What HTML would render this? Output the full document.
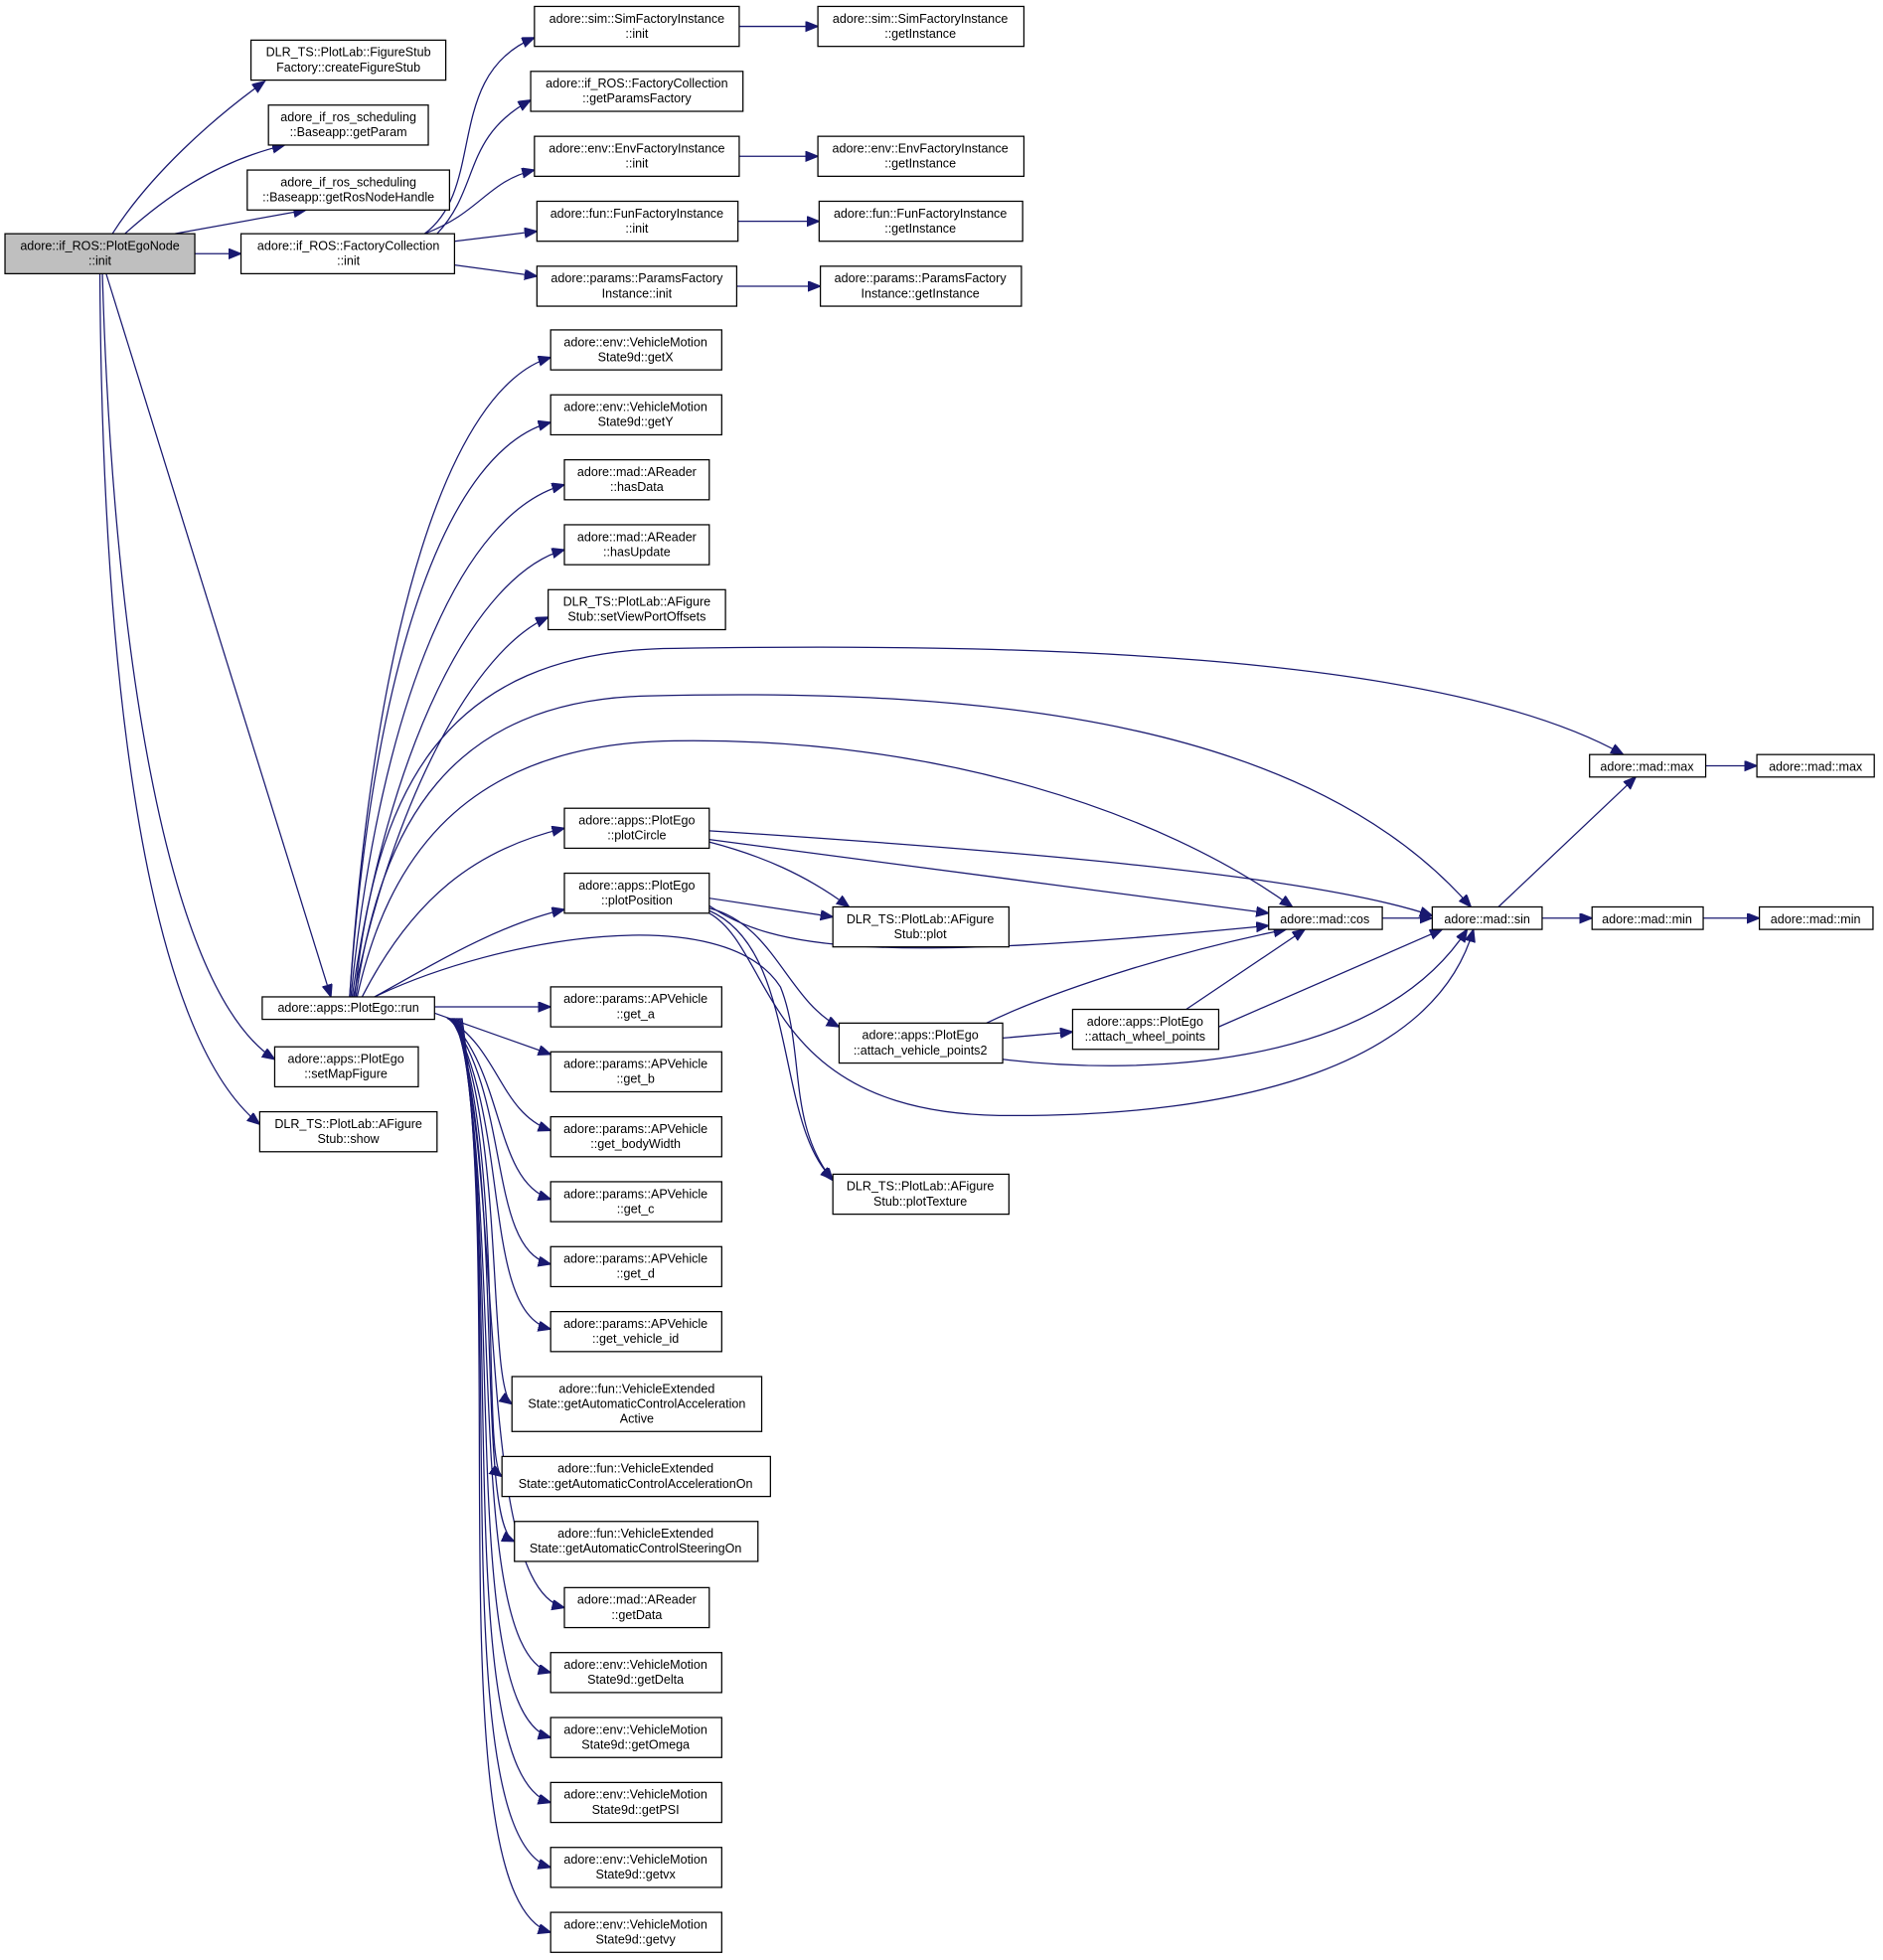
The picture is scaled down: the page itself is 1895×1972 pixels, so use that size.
<!DOCTYPE html>
<html><head><meta charset="utf-8"><style>
html,body{margin:0;padding:0;background:#fff;}
svg{display:block;}
text{font-family:"Liberation Sans",Arial,sans-serif;font-size:10px;fill:#000;text-anchor:middle;}
rect{fill:#fff;stroke:#000;stroke-width:1;}
path{fill:none;stroke:#191970;stroke-width:1;}
</style></head><body>
<svg width="1895" height="1972" viewBox="0 0 1508 1569" xmlns="http://www.w3.org/2000/svg">
<defs><marker id="a" markerUnits="userSpaceOnUse" markerWidth="12" markerHeight="10" refX="10" refY="4" orient="auto"><path d="M0,0 L10,4 L0,8 Z" style="fill:#191970;stroke:#191970"/></marker></defs>
<g marker-end="url(#a)">
<path d="M90,187 C120,140 170,95 212,65"/>
<path d="M100,187 C130,160 170,130 228,116"/>
<path d="M140,187 L245,168"/>
<path d="M156,203 L193,203"/>
<path d="M85,219 L265,798"/>
<path d="M82,219 C90,500 130,790 220,848"/>
<path d="M80,219 C82,560 120,830 208,900"/>
<path d="M340,187 C390,150 355,60 428,30"/>
<path d="M350,187 C385,150 370,110 425,80"/>
<path d="M340,187 C385,170 390,145 428,136"/>
<path d="M364,193 L430,185"/>
<path d="M364,212 L430,221"/>
<path d="M592,21 L655,21"/>
<path d="M592,125 L655,125"/>
<path d="M591,177 L656,177"/>
<path d="M590,229 L657,229"/>
<path d="M280,798 C300,500 360,310 441,286"/>
<path d="M280,798 C300,520 360,360 441,338"/>
<path d="M281,798 C305,560 370,410 452,388"/>
<path d="M282,798 C310,600 380,460 452,440"/>
<path d="M283,798 C315,640 380,520 439,494"/>
<path d="M284,798 C300,640 350,520 540,519 C800,515 1150,520 1300,604"/>
<path d="M285,798 C305,660 360,560 520,557 C800,550 1050,580 1178,726"/>
<path d="M286,798 C310,690 370,595 540,593 C750,590 930,650 1035,726"/>
<path d="M290,798 C330,720 380,680 452,663"/>
<path d="M300,798 C350,770 400,740 452,728"/>
<path d="M300,798 C400,750 580,720 625,790 C645,840 630,900 667,945"/>
<path d="M348,806 L441,806"/>
<path d="M348,811 L441,844"/>
<path d="M358,815 C400,840 400,890 441,905"/>
<path d="M359,815 C405,860 395,945 441,960"/>
<path d="M360,815 C410,880 390,1000 441,1012"/>
<path d="M361,815 C410,900 385,1050 441,1064"/>
<path d="M362,815 C405,900 390,1110 410,1124"/>
<path d="M363,815 C405,920 385,1170 402,1182"/>
<path d="M364,815 C405,940 380,1220 412,1234"/>
<path d="M365,815 C405,960 380,1270 452,1287"/>
<path d="M366,815 C405,980 370,1320 441,1339"/>
<path d="M367,815 C405,1000 365,1370 441,1391"/>
<path d="M368,815 C405,1020 360,1420 441,1443"/>
<path d="M369,815 C405,1040 355,1470 441,1495"/>
<path d="M370,815 C405,1060 350,1520 441,1547"/>
<path d="M568,665 C800,680 1050,700 1147,733"/>
<path d="M568,672 L1016,731"/>
<path d="M568,674 C610,685 645,700 680,726"/>
<path d="M568,719 L667,734"/>
<path d="M568,725 C620,760 700,772 1016,741"/>
<path d="M568,727 C620,740 630,800 672,822"/>
<path d="M568,729 C640,760 620,900 667,944"/>
<path d="M568,731 C620,760 610,890 800,893 C1000,895 1150,850 1180,744"/>
<path d="M790,819 C850,790 950,760 1030,744"/>
<path d="M803,831 L859,826"/>
<path d="M803,848 C900,860 1100,860 1175,744"/>
<path d="M950,808 L1045,744"/>
<path d="M976,822 L1155,744"/>
<path d="M1107,735 L1147,735"/>
<path d="M1200,726 L1310,622"/>
<path d="M1235,735 L1275,735"/>
<path d="M1366,613 L1407,613"/>
<path d="M1364,735 L1409,735"/>
</g>
<rect x="4" y="187" width="152" height="32" style="fill:#bfbfbf"/><text x="80" y="200">adore::if_ROS::PlotEgoNode</text><text x="80" y="212">::init</text>
<rect x="201" y="32" width="156" height="32"/><text x="279" y="45">DLR_TS::PlotLab::FigureStub</text><text x="279" y="57">Factory::createFigureStub</text>
<rect x="215" y="84" width="128" height="32"/><text x="279" y="97">adore_if_ros_scheduling</text><text x="279" y="109">::Baseapp::getParam</text>
<rect x="198" y="136" width="162" height="32"/><text x="279" y="149">adore_if_ros_scheduling</text><text x="279" y="161">::Baseapp::getRosNodeHandle</text>
<rect x="193" y="187" width="171" height="32"/><text x="279" y="200">adore::if_ROS::FactoryCollection</text><text x="279" y="212">::init</text>
<rect x="428" y="5" width="164" height="32"/><text x="510" y="18">adore::sim::SimFactoryInstance</text><text x="510" y="30">::init</text>
<rect x="425" y="57" width="170" height="32"/><text x="510" y="70">adore::if_ROS::FactoryCollection</text><text x="510" y="82">::getParamsFactory</text>
<rect x="428" y="109" width="164" height="32"/><text x="510" y="122">adore::env::EnvFactoryInstance</text><text x="510" y="134">::init</text>
<rect x="430" y="161" width="161" height="32"/><text x="510" y="174">adore::fun::FunFactoryInstance</text><text x="510" y="186">::init</text>
<rect x="430" y="213" width="160" height="32"/><text x="510" y="226">adore::params::ParamsFactory</text><text x="510" y="238">Instance::init</text>
<rect x="655" y="5" width="165" height="32"/><text x="737" y="18">adore::sim::SimFactoryInstance</text><text x="737" y="30">::getInstance</text>
<rect x="655" y="109" width="165" height="32"/><text x="737" y="122">adore::env::EnvFactoryInstance</text><text x="737" y="134">::getInstance</text>
<rect x="656" y="161" width="163" height="32"/><text x="737" y="174">adore::fun::FunFactoryInstance</text><text x="737" y="186">::getInstance</text>
<rect x="657" y="213" width="161" height="32"/><text x="737" y="226">adore::params::ParamsFactory</text><text x="737" y="238">Instance::getInstance</text>
<rect x="441" y="264" width="137" height="32"/><text x="509" y="277">adore::env::VehicleMotion</text><text x="509" y="289">State9d::getX</text>
<rect x="441" y="316" width="137" height="32"/><text x="509" y="329">adore::env::VehicleMotion</text><text x="509" y="341">State9d::getY</text>
<rect x="452" y="368" width="116" height="32"/><text x="510" y="381">adore::mad::AReader</text><text x="510" y="393">::hasData</text>
<rect x="452" y="420" width="116" height="32"/><text x="510" y="433">adore::mad::AReader</text><text x="510" y="445">::hasUpdate</text>
<rect x="439" y="472" width="142" height="32"/><text x="510" y="485">DLR_TS::PlotLab::AFigure</text><text x="510" y="497">Stub::setViewPortOffsets</text>
<rect x="452" y="647" width="116" height="32"/><text x="510" y="660">adore::apps::PlotEgo</text><text x="510" y="672">::plotCircle</text>
<rect x="452" y="699" width="116" height="32"/><text x="510" y="712">adore::apps::PlotEgo</text><text x="510" y="724">::plotPosition</text>
<rect x="210" y="798" width="138" height="18"/><text x="279" y="810">adore::apps::PlotEgo::run</text>
<rect x="220" y="838" width="115" height="32"/><text x="277" y="851">adore::apps::PlotEgo</text><text x="277" y="863">::setMapFigure</text>
<rect x="208" y="890" width="142" height="32"/><text x="279" y="903">DLR_TS::PlotLab::AFigure</text><text x="279" y="915">Stub::show</text>
<rect x="441" y="790" width="137" height="32"/><text x="509" y="803">adore::params::APVehicle</text><text x="509" y="815">::get_a</text>
<rect x="441" y="842" width="137" height="32"/><text x="509" y="855">adore::params::APVehicle</text><text x="509" y="867">::get_b</text>
<rect x="441" y="894" width="137" height="32"/><text x="509" y="907">adore::params::APVehicle</text><text x="509" y="919">::get_bodyWidth</text>
<rect x="441" y="946" width="137" height="32"/><text x="509" y="959">adore::params::APVehicle</text><text x="509" y="971">::get_c</text>
<rect x="441" y="998" width="137" height="32"/><text x="509" y="1011">adore::params::APVehicle</text><text x="509" y="1023">::get_d</text>
<rect x="441" y="1050" width="137" height="32"/><text x="509" y="1063">adore::params::APVehicle</text><text x="509" y="1075">::get_vehicle_id</text>
<rect x="410" y="1102" width="200" height="44"/><text x="510" y="1115">adore::fun::VehicleExtended</text><text x="510" y="1127">State::getAutomaticControlAcceleration</text><text x="510" y="1139">Active</text>
<rect x="402" y="1166" width="215" height="32"/><text x="509" y="1179">adore::fun::VehicleExtended</text><text x="509" y="1191">State::getAutomaticControlAccelerationOn</text>
<rect x="412" y="1218" width="195" height="32"/><text x="509" y="1231">adore::fun::VehicleExtended</text><text x="509" y="1243">State::getAutomaticControlSteeringOn</text>
<rect x="452" y="1271" width="116" height="32"/><text x="510" y="1284">adore::mad::AReader</text><text x="510" y="1296">::getData</text>
<rect x="441" y="1323" width="137" height="32"/><text x="509" y="1336">adore::env::VehicleMotion</text><text x="509" y="1348">State9d::getDelta</text>
<rect x="441" y="1375" width="137" height="32"/><text x="509" y="1388">adore::env::VehicleMotion</text><text x="509" y="1400">State9d::getOmega</text>
<rect x="441" y="1427" width="137" height="32"/><text x="509" y="1440">adore::env::VehicleMotion</text><text x="509" y="1452">State9d::getPSI</text>
<rect x="441" y="1479" width="137" height="32"/><text x="509" y="1492">adore::env::VehicleMotion</text><text x="509" y="1504">State9d::getvx</text>
<rect x="441" y="1531" width="137" height="32"/><text x="509" y="1544">adore::env::VehicleMotion</text><text x="509" y="1556">State9d::getvy</text>
<rect x="667" y="726" width="141" height="32"/><text x="737" y="739">DLR_TS::PlotLab::AFigure</text><text x="737" y="751">Stub::plot</text>
<rect x="667" y="940" width="141" height="32"/><text x="737" y="953">DLR_TS::PlotLab::AFigure</text><text x="737" y="965">Stub::plotTexture</text>
<rect x="672" y="819" width="131" height="32"/><text x="737" y="832">adore::apps::PlotEgo</text><text x="737" y="844">::attach_vehicle_points2</text>
<rect x="859" y="808" width="117" height="32"/><text x="917" y="821">adore::apps::PlotEgo</text><text x="917" y="833">::attach_wheel_points</text>
<rect x="1016" y="726" width="91" height="18"/><text x="1061" y="739">adore::mad::cos</text>
<rect x="1147" y="726" width="88" height="18"/><text x="1191" y="739">adore::mad::sin</text>
<rect x="1273" y="604" width="93" height="18"/><text x="1319" y="617">adore::mad::max</text>
<rect x="1407" y="604" width="94" height="18"/><text x="1454" y="617">adore::mad::max</text>
<rect x="1275" y="726" width="89" height="18"/><text x="1319" y="739">adore::mad::min</text>
<rect x="1409" y="726" width="91" height="18"/><text x="1454" y="739">adore::mad::min</text>
</svg>
</body></html>
